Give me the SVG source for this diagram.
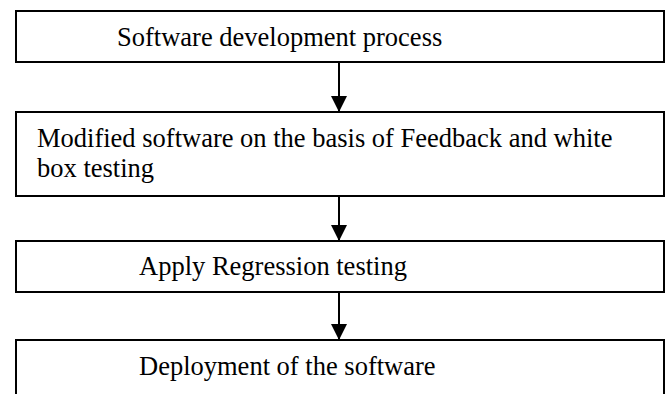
<svg xmlns="http://www.w3.org/2000/svg" width="668" height="394" viewBox="0 0 668 394">
  <style>
    .box { fill: #ffffff; stroke: #000000; stroke-width: 2; }
    .lbl { font-family: "Liberation Serif", "Times New Roman", serif; font-size: 26.5px; fill: #000000; }
    .conn { stroke: #000000; stroke-width: 2; fill: none; }
  </style>
  <defs>
    <marker id="arrow" markerUnits="userSpaceOnUse" markerWidth="16" markerHeight="17" refX="16" refY="8" orient="auto">
      <path d="M0,0 L16,8 L0,16 Z" fill="#000000"/>
    </marker>
  </defs>
  <rect width="668" height="394" fill="#ffffff"/>
  <g id="connectors">
    <line class="conn" x1="339" y1="62" x2="339" y2="112" marker-end="url(#arrow)"/>
    <line class="conn" x1="339" y1="196" x2="339" y2="241" marker-end="url(#arrow)"/>
    <line class="conn" x1="339" y1="292" x2="339" y2="340" marker-end="url(#arrow)"/>
  </g>
  <g id="node1">
    <rect class="box" x="16" y="11" width="648" height="51"/>
    <text class="lbl" x="117" y="46">Software development process</text>
  </g>
  <g id="node2">
    <rect class="box" x="16" y="112" width="648" height="84"/>
    <text class="lbl" x="37" y="147">Modified software on the basis of Feedback and white</text>
    <text class="lbl" x="37" y="177">box testing</text>
  </g>
  <g id="node3">
    <rect class="box" x="16" y="241" width="648" height="51"/>
    <text class="lbl" x="139" y="275">Apply Regression testing</text>
  </g>
  <g id="node4">
    <rect class="box" x="16" y="340" width="648" height="60"/>
    <text class="lbl" x="139" y="375">Deployment of the software</text>
  </g>
</svg>
